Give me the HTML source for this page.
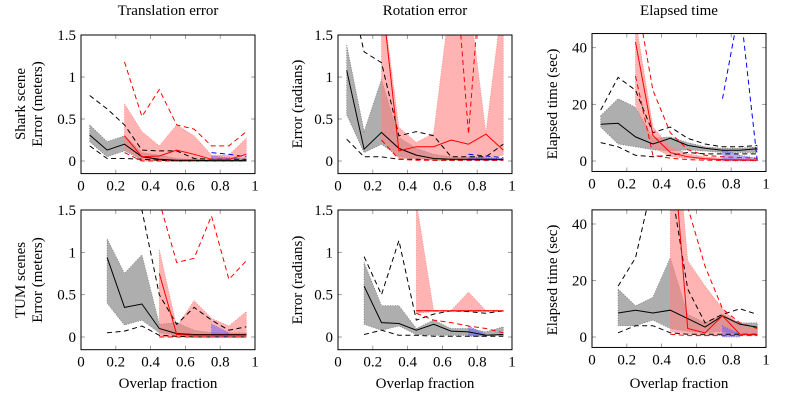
<!DOCTYPE html>
<html><head><meta charset="utf-8">
<style>
body{margin:0;background:#fff;}
svg{display:block;font-family:"Liberation Serif",serif;}
</style></head>
<body>
<svg id="fig" width="793" height="403" viewBox="0 0 793 403"></svg>
<script>
// ---- x positions (overlap fraction bins) ----
const xAll = [0.05,0.15,0.25,0.35,0.45,0.55,0.65,0.75,0.85,0.95];
const xFrom15 = [0.15,0.25,0.35,0.45,0.55,0.65,0.75,0.85,0.95];
const xFrom25 = [0.25,0.35,0.45,0.55,0.65,0.75,0.85,0.95];
const xFrom45 = [0.45,0.55,0.65,0.75,0.85,0.95];
const xFrom75 = [0.75,0.85,0.95];
const xBlue2 = [0.75,0.85];
const xTicks = [0,0.2,0.4,0.6,0.8,1];
const xTickLabels = ["0","0.2","0.4","0.6","0.8","1"];
const errTicks = [0,0.5,1,1.5];
const errTickLabels = ["0","0.5","1","1.5"];
const timeTicks = [0,20,40];
const timeTickLabels = ["0","20","40"];

// ---- Panel 1: Shark translation ----
const p1BlackMed = [0.31,0.13,0.2,0.05,0.02,0.01,0.01,0.005,0.005,0.005];
const p1BlackHi = [0.43,0.23,0.3,0.1,0.07,0.03,0.02,0.02,0.01,0.01];
const p1BlackLo = [0.23,0.05,0.12,0.02,0.01,0.005,0.005,0.005,0.005,0.005];
const p1BlackDashHi = [0.78,0.62,0.43,0.13,0.12,0.12,0.03,0.02,0.02,0.02];
const p1BlackDashLo = [0.18,0.03,0.03,0.02,0.01,0.0,0.0,0.0,0.0,0.0];
const p1RedMed = [0.3,0.05,0.06,0.13,0.08,0.02,0.02,0.08];
const p1RedHi = [0.68,0.35,0.18,0.43,0.3,0.07,0.07,0.27];
const p1RedLo = [0.15,0,0,0,0,0,0,0];
const p1RedDashHi = [1.18,0.53,0.85,0.43,0.38,0.18,0.18,0.35];
const p1RedDashLo = [0.1,0,0,0,0,0,0,0];
const p1BlueDash = [0.1,0.08,0.05];
const p1BlueHi = [0.06,0.04,0.02];
const p1BlueLo = [0,0,0];

// ---- Panel 2: Shark rotation ----
const p2BlackMed = [1.08,0.14,0.34,0.15,0.07,0.03,0.02,0.02,0.02,0.02];
const p2BlackHi = [1.38,0.35,0.97,0.28,0.15,0.08,0.05,0.04,0.03,0.03];
const p2BlackLo = [0.55,0.1,0.2,0.05,0.03,0.01,0.01,0.01,0.01,0.01];
const p2BlackDashHi = [2.2,1.3,1.17,0.3,0.35,0.3,0.05,0.05,0.05,0.2];
const p2BlackDashLo = [0.26,0.05,0.05,0.02,0.02,0.01,0.01,0.01,0.01,0.01];
const p2RedMed = [2.0,0.12,0.17,0.17,0.25,0.2,0.32,0.13];
const p2RedHi = [2.0,0.4,0.22,0.33,2.0,2.0,0.33,2.0];
const p2RedLo = [0.25,0.03,0.02,0.02,0.02,0.02,0.02,0.07];
const p2RedDashHi = [3,3,3,3,3,0.32,3,3];
const p2RedDashLo = [0.25,0.02,0.01,0.01,0.01,0.01,0.01,0.01];
const p2BlueDash = [0.08,0.06,0.04];
const p2BlueHi = [0.05,0.04,0.03];
const p2BlueLo = [0.01,0.01,0.01];

// ---- Panel 3: Shark time ----
const p3BlackMed = [13,13.3,8.5,6,8,5.5,4.5,3.8,3.8,4.3];
const p3BlackHi = [16,22,19,8,8.5,6.5,5,4.5,4.5,5];
const p3BlackLo = [12,6,5,4,3.5,4,3.5,3,3,3];
const p3BlackDashHi = [18,29.5,25,10,12,8,6,5,5,5.5];
const p3BlackDashLo = [6.5,5,2,1.5,2,3,2.5,2.5,2.5,2.5];
const p3RedMed = [42,9,3,1.5,0.8,0.5,0.4,0.3];
const p3RedHi = [50,12,5,2.5,1.5,1,0.8,0.6];
const p3RedLo = [20,5,1.5,1,0.5,0.2,0.2,0.2];
const p3RedDashHi = [60,25,10,4,2,1.5,1.2,1];
const p3RedDashLo = [30,2,1,0.5,0.3,0.2,0.2,0.2];
const p3BlueDash = [22,55,0];
const p3BlueHi = [4,2,1];
const p3BlueLo = [0,0,0];

// ---- Panel 4: TUM translation ----
const p4BlackMed = [0.94,0.35,0.39,0.1,0.04,0.03,0.03,0.03,0.03];
const p4BlackHi = [1.16,0.75,0.97,0.15,0.17,0.08,0.05,0.05,0.05];
const p4BlackLo = [0.4,0.14,0.2,0.05,0.02,0.01,0.01,0.01,0.01];
const p4BlackDashHi = [3,3,1.5,0.5,0.15,0.35,0.2,0.08,0.12];
const p4BlackDashLo = [0.05,0.07,0.13,0.02,0.01,0,0,0,0];
const p4RedMed = [0.75,0.03,0.02,0.02,0.02,0.02];
const p4RedHi = [1.03,0.12,0.43,0.22,0.13,0.3];
const p4RedLo = [0,0,0,0,0,0];
const p4RedDashHi = [1.6,0.88,0.93,1.43,0.68,0.9];
const p4RedDashLo = [0,0,0,0,0,0];
const p4BlueHi = [0.15,0.05];
const p4BlueLo = [0,0];

// ---- Panel 5: TUM rotation ----
const p5BlackMed = [0.6,0.17,0.16,0.08,0.15,0.07,0.06,0.02,0.03];
const p5BlackHi = [0.88,0.37,0.37,0.1,0.2,0.1,0.1,0.06,0.12];
const p5BlackLo = [0.15,0.08,0.13,0.03,0.02,0.02,0.02,0.02,0.02];
const p5BlackDashHi = [0.95,0.5,1.14,0.2,0.27,0.31,0.3,0.28,0.31];
const p5BlackDashLo = [0.03,0.08,0.02,0.02,0.01,0.01,0.01,0.01,0.01];
const p5RedMed = [0.31,0.31,0.31,0.31,0.31,0.31];
const p5RedHi = [1.6,0.3,0.31,0.53,0.31,0.31];
const p5RedLo = [0.28,0.3,0.3,0.3,0.3,0.3];
const p5RedDashHi = [0.31,0.31,0.31,0.31,0.31,0.31];
const p5RedDashLo = [0.28,0.2,0.17,0.13,0.1,0.05];
const p5BlueHi = [0.13,0.03];
const p5BlueLo = [0.01,0.01];

// ---- Panel 6: TUM time ----
const p6BlackMed = [8.5,9.5,8.5,9.5,6.5,3.5,7.5,4.5,3.5];
const p6BlackHi = [17,11,14,28,8,5,8,5,5];
const p6BlackLo = [4,4,6,3,2,1.5,2,1,1];
const p6BlackDashHi = [18,28,55,55,17,5,8,10,8];
const p6BlackDashLo = [1.5,4,4,1.5,1,1,1,1,1];
const p6RedMed = [80,3,1.5,7.5,1,0.8];
const p6RedHi = [100,27,18,10,4,3];
const p6RedLo = [2,1,0.5,0.5,0.5,0.5];
const p6RedDashHi = [100,46,25,10,5,3];
const p6RedDashLo = [1,0.5,0.5,0.5,0.5,0.5];
const p6BlueHi = [4,1];
const p6BlueLo = [0,0];

const NS = "http://www.w3.org/2000/svg";
const svg = document.getElementById("fig");
function mk(tag, attrs, parent){
  const e = document.createElementNS(NS, tag);
  for (const k in attrs) e.setAttribute(k, attrs[k]);
  (parent||svg).appendChild(e);
  return e;
}

const panels = [
  {id:"shark-translation", x0:81, x1:255, yTop:35, yZero:161, yMaxV:1.5, yMin:-0.15, yMax:1.5, ticks:errTicks, tl:errTickLabels,
   bx:xAll, bm:p1BlackMed, bh:p1BlackHi, bl:p1BlackLo, bdh:p1BlackDashHi, bdl:p1BlackDashLo,
   rx:xFrom25, rm:p1RedMed, rh:p1RedHi, rl:p1RedLo, rdh:p1RedDashHi, rdl:p1RedDashLo,
   ux:xFrom75, ud:p1BlueDash, uh:p1BlueHi, ul:p1BlueLo},
  {id:"shark-rotation", x0:338, x1:512, yTop:35, yZero:161, yMaxV:1.5, yMin:-0.15, yMax:1.5, ticks:errTicks, tl:errTickLabels,
   bx:xAll, bm:p2BlackMed, bh:p2BlackHi, bl:p2BlackLo, bdh:p2BlackDashHi, bdl:p2BlackDashLo,
   rx:xFrom25, rm:p2RedMed, rh:p2RedHi, rl:p2RedLo, rdh:p2RedDashHi, rdl:p2RedDashLo,
   ux:xFrom75, ud:p2BlueDash, uh:p2BlueHi, ul:p2BlueLo},
  {id:"shark-time", x0:592, x1:766, yTop:47.7, yZero:161, yMaxV:40, yMin:-3.7, yMax:45, ticks:timeTicks, tl:timeTickLabels,
   bx:xAll, bm:p3BlackMed, bh:p3BlackHi, bl:p3BlackLo, bdh:p3BlackDashHi, bdl:p3BlackDashLo,
   rx:xFrom25, rm:p3RedMed, rh:p3RedHi, rl:p3RedLo, rdh:p3RedDashHi, rdl:p3RedDashLo,
   ux:xFrom75, ud:p3BlueDash, uh:p3BlueHi, ul:p3BlueLo},
  {id:"tum-translation", x0:81, x1:255, yTop:210, yZero:337, yMaxV:1.5, yMin:-0.15, yMax:1.5, ticks:errTicks, tl:errTickLabels,
   bx:xFrom15, bm:p4BlackMed, bh:p4BlackHi, bl:p4BlackLo, bdh:p4BlackDashHi, bdl:p4BlackDashLo,
   rx:xFrom45, rm:p4RedMed, rh:p4RedHi, rl:p4RedLo, rdh:p4RedDashHi, rdl:p4RedDashLo,
   ux:xBlue2, ud:null, uh:p4BlueHi, ul:p4BlueLo},
  {id:"tum-rotation", x0:338, x1:512, yTop:210, yZero:337, yMaxV:1.5, yMin:-0.15, yMax:1.5, ticks:errTicks, tl:errTickLabels,
   bx:xFrom15, bm:p5BlackMed, bh:p5BlackHi, bl:p5BlackLo, bdh:p5BlackDashHi, bdl:p5BlackDashLo,
   rx:xFrom45, rm:p5RedMed, rh:p5RedHi, rl:p5RedLo, rdh:p5RedDashHi, rdl:p5RedDashLo,
   ux:xBlue2, ud:null, uh:p5BlueHi, ul:p5BlueLo},
  {id:"tum-time", x0:592, x1:766, yTop:224, yZero:337, yMaxV:40, yMin:-3.7, yMax:45, ticks:timeTicks, tl:timeTickLabels,
   bx:xFrom15, bm:p6BlackMed, bh:p6BlackHi, bl:p6BlackLo, bdh:p6BlackDashHi, bdl:p6BlackDashLo,
   rx:xFrom45, rm:p6RedMed, rh:p6RedHi, rl:p6RedLo, rdh:p6RedDashHi, rdl:p6RedDashLo,
   ux:xBlue2, ud:null, uh:p6BlueHi, ul:p6BlueLo}
];

const defs = mk("defs", {});
panels.forEach((p, i) => {
  const sx = v => p.x0 + (p.x1 - p.x0) * v;
  const k = (p.yZero - p.yTop) / p.yMaxV;
  const sy = v => p.yZero - k * v;
  const top = sy(p.yMax), bot = sy(p.yMin);
  const g = mk("g", {});
  
  
  const cp = mk("clipPath", {id:"c"+i}, defs);
  mk("rect", {x:p.x0, y:top, width:p.x1-p.x0, height:bot-top}, cp);
  const plot = mk("g", {"clip-path":"url(#c"+i+")"}, g);
  
  
  const line = (xs, ys) => xs.map((x,j)=>(j?"L":"M")+sx(x).toFixed(1)+" "+sy(ys[j]).toFixed(1)).join(" ");
  const band = (xs, hi, lo) => {
    let d = xs.map((x,j)=>(j?"L":"M")+sx(x).toFixed(1)+" "+sy(hi[j]).toFixed(1)).join(" ");
    for (let j=xs.length-1;j>=0;j--) d += " L"+sx(xs[j]).toFixed(1)+" "+sy(lo[j]).toFixed(1);
    return d+" Z";
  };
  // bands
  const b1 = mk("path", {d:band(p.bx,p.bh,p.bl), fill:"#8c8c8c", "fill-opacity":0.7, stroke:"#777", "stroke-width":0.8, "stroke-dasharray":"1 1.5"}, plot);
  
  
  const b2 = mk("path", {d:band(p.rx,p.rh,p.rl), fill:"#ff8080", "fill-opacity":0.6, stroke:"#f88", "stroke-width":0.8, "stroke-dasharray":"1 1.5"}, plot);
  
  
  const b3 = mk("path", {d:band(p.ux,p.uh,p.ul), fill:"#6060ff", "fill-opacity":0.5, stroke:"#66f", "stroke-width":0.8, "stroke-dasharray":"1 1.5"}, plot);
  
  
  // dashed ranges
  [[p.bx,p.bdh,"#000","black-range-upper"],[p.bx,p.bdl,"#000","black-range-lower"],
   [p.rx,p.rdh,"#f00","red-range-upper"],[p.rx,p.rdl,"#f00","red-range-lower"]].forEach(s=>{
    const e = mk("path", {d:line(s[0],s[1]), fill:"none", stroke:s[2], "stroke-width":1, "stroke-dasharray":"5 3.5"}, plot);
    
    
  });
  if (p.ud) {
    const e = mk("path", {d:line(p.ux,p.ud), fill:"none", stroke:"#00f", "stroke-width":1, "stroke-dasharray":"5 3.5"}, plot);
    
    
  }
  // medians
  const m1 = mk("path", {d:line(p.bx,p.bm), fill:"none", stroke:"#000", "stroke-width":1}, plot);
  
  
  const m2 = mk("path", {d:line(p.rx,p.rm), fill:"none", stroke:"#f00", "stroke-width":1}, plot);
  
  
  // ticks
  xTicks.forEach((t,j)=>{
    mk("line", {x1:sx(t), x2:sx(t), y1:bot, y2:bot-4, stroke:"#888", "stroke-width":0.8}, g);
    mk("line", {x1:sx(t), x2:sx(t), y1:top, y2:top+4, stroke:"#888", "stroke-width":0.8}, g);
    const tx = mk("text", {x:sx(t), y:bot+17, "font-size":15, "text-anchor":"middle", fill:"#000"}, g);
    tx.textContent = xTickLabels[j];
    
    
  });
  p.ticks.forEach((t,j)=>{
    mk("line", {x1:p.x0, x2:p.x0+4, y1:sy(t), y2:sy(t), stroke:"#888", "stroke-width":0.8}, g);
    mk("line", {x1:p.x1, x2:p.x1-4, y1:sy(t), y2:sy(t), stroke:"#888", "stroke-width":0.8}, g);
    const ty = mk("text", {x:p.x0-5, y:sy(t)+5, "font-size":15, "text-anchor":"end", fill:"#000"}, g);
    ty.textContent = p.tl[j];
    
    
  });
  const fr = mk("rect", {x:p.x0, y:top, width:p.x1-p.x0, height:bot-top, fill:"none", stroke:"#000", "stroke-width":1}, g);
  
  
});

function txt(x,y,s,name,rot){
  const t = mk("text", {x:x, y:y, "font-size":15, "text-anchor":"middle", fill:"#000"});
  if (rot) t.setAttribute("transform","rotate(-90 "+x+" "+y+")");
  t.textContent = s;
  
  
}
txt(168,15,"Translation error","title-translation");
txt(425,15,"Rotation error","title-rotation");
txt(679,15,"Elapsed time","title-elapsed-time");
txt(25,104,"Shark scene","row-label-shark",true);
txt(42,104,"Error (meters)","y-axis-title-translation-top",true);
txt(25,280,"TUM scenes","row-label-tum",true);
txt(42,280,"Error (meters)","y-axis-title-translation-bottom",true);
txt(302,104,"Error (radians)","y-axis-title-rotation-top",true);
txt(302,280,"Error (radians)","y-axis-title-rotation-bottom",true);
txt(557,104,"Elapsed time (sec)","y-axis-title-time-top",true);
txt(557,280,"Elapsed time (sec)","y-axis-title-time-bottom",true);
txt(168,388,"Overlap fraction","x-axis-title-left");
txt(425,388,"Overlap fraction","x-axis-title-middle");
txt(679,388,"Overlap fraction","x-axis-title-right");
</script>
</body></html>
